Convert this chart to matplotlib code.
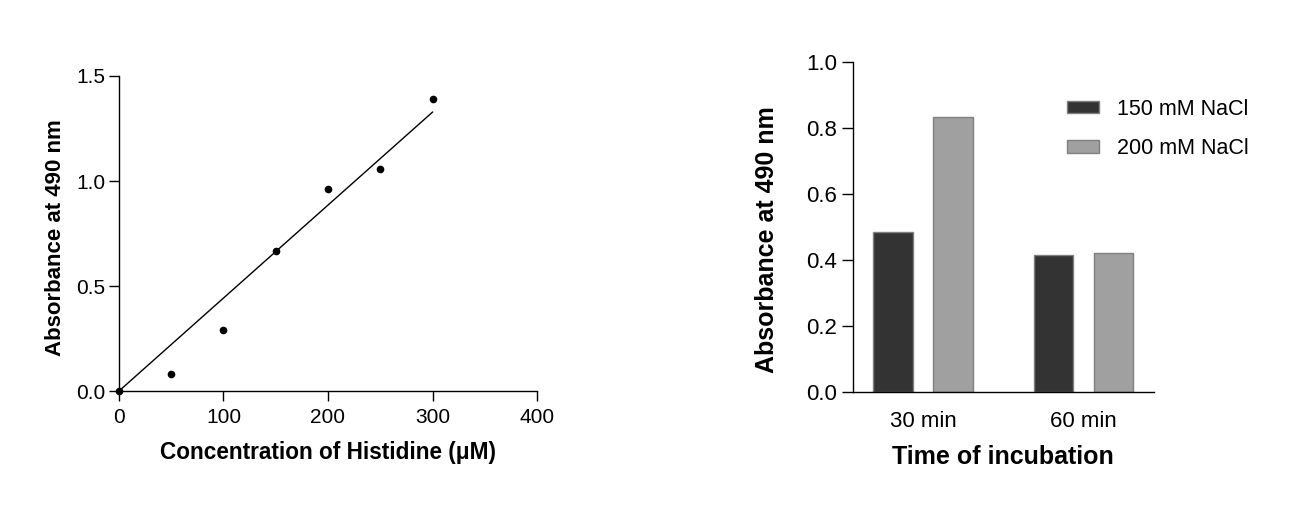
import numpy as np
import matplotlib
matplotlib.use('Agg')
import matplotlib.pyplot as plt

plt.rcParams['font.family'] = ['Liberation Sans', 'DejaVu Sans']

# Left panel: standard curve
conc = np.array([0, 50, 100, 150, 200, 250, 300])
absorb = np.array([0.0, 0.083, 0.292, 0.667, 0.962, 1.057, 1.390])

# Right panel: incubation time
times = ['30 min', '60 min']
nacl_150 = [0.483, 0.415]
nacl_200 = [0.833, 0.422]

fig = plt.figure(figsize=(12.99, 5.17), dpi=100)

# ============================================================
# Left: histidine standard curve
# ============================================================
ax1 = fig.add_axes([0.0916, 0.2437, 0.3218, 0.6093])

# linear fit through origin
slope = np.sum(conc * absorb) / np.sum(conc ** 2)
xfit = np.array([0, conc.max()])
ax1.plot(xfit, slope * xfit, color='black', lw=1.0)
ax1.plot(conc, absorb, 'o', color='black', ms=4.5, clip_on=False)

ax1.set_xlim(0, 400)
ax1.set_ylim(0, 1.5)
ax1.set_xticks([0, 100, 200, 300, 400])
ax1.set_yticks([0.0, 0.5, 1.0, 1.5])
ax1.set_yticklabels(['0.0', '0.5', '1.0', '1.5'])
ax1.spines['top'].set_visible(False)
ax1.spines['right'].set_visible(False)
for s in ['left', 'bottom']:
    ax1.spines[s].set_linewidth(1.0)
ax1.tick_params(direction='out', length=7, width=1.0, labelsize=15, pad=3)
ax1.tick_params(axis='x', pad=5)
ax1.set_xlabel('Concentration of Histidine (μM)', fontsize=16.3, fontweight='bold', labelpad=10)
ax1.set_ylabel('Absorbance at 490 nm', fontsize=16, fontweight='bold')
ax1.yaxis.set_label_coords(-0.127, 0.487)

# ============================================================
# Right: bar chart
# ============================================================
ax2 = fig.add_axes([0.6564, 0.2424, 0.232, 0.6377])

x = np.arange(len(times))
width = 0.245
off = 0.187
ax2.bar(x - off, nacl_150, width, color='#333333', edgecolor='#808080', lw=1.0, label='150 mM NaCl')
ax2.bar(x + off, nacl_200, width, color='#a0a0a0', edgecolor='#808080', lw=1.0, label='200 mM NaCl')

ax2.set_xlim(-0.4375, 1.4375)
ax2.set_ylim(0, 1.0)
ax2.set_yticks([0.0, 0.2, 0.4, 0.6, 0.8, 1.0])
ax2.set_yticklabels(['0.0', '0.2', '0.4', '0.6', '0.8', '1.0'])
ax2.set_xticks(x)
ax2.set_xticklabels(times)
ax2.spines['top'].set_visible(False)
ax2.spines['right'].set_visible(False)
for s in ['left', 'bottom']:
    ax2.spines[s].set_linewidth(1.0)
ax2.tick_params(axis='y', direction='out', length=8, width=1.0, labelsize=16, pad=3)
ax2.tick_params(axis='x', length=0, labelsize=16, pad=14)
ax2.set_xlabel('Time of incubation', fontsize=18, fontweight='bold', labelpad=9)
ax2.set_ylabel('Absorbance at 490 nm', fontsize=18, fontweight='bold')
ax2.yaxis.set_label_coords(-0.245, 0.46)

ax2.legend(loc='upper left', bbox_to_anchor=(0.683, 0.915), frameon=False, fontsize=15.5,
           handlelength=1.5, handleheight=0.55, handletextpad=0.8, labelspacing=0.85,
           borderaxespad=0)

plt.savefig('out.png', dpi=100)
plt.close('all')
